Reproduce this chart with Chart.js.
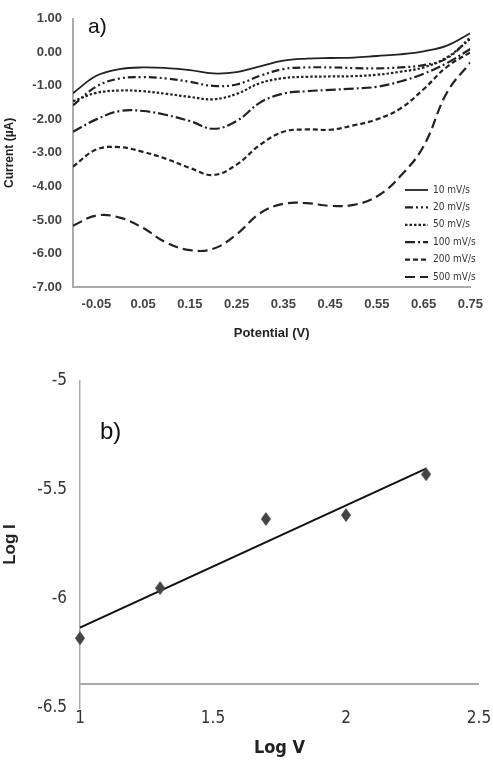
<!DOCTYPE html>
<html>
<head>
<meta charset="utf-8">
<script src="https://cdn.jsdelivr.net/npm/chart.js@4.4.1/dist/chart.umd.min.js"></script>
<style>
  body { margin: 0; background: #fff; }
  canvas { display: block; }
</style>
</head>
<body>
<canvas id="cvChart" width="493" height="345"></canvas>
<canvas id="logChart" width="493" height="418"></canvas>
<script>
// a) cyclic voltammograms - current (µA) against potential (V)
const potentials = [-0.10, -0.05, 0.00, 0.05, 0.10, 0.15, 0.20, 0.25, 0.30, 0.35, 0.40, 0.45, 0.50, 0.55, 0.60, 0.65, 0.70, 0.75];
const scanLabels = ['10 mV/s', '20 mV/s', '50 mV/s', '100 mV/s', '200 mV/s', '500 mV/s'];
const current10 = [-1.22, -0.70, -0.50, -0.45, -0.47, -0.53, -0.63, -0.59, -0.42, -0.25, -0.19, -0.17, -0.16, -0.11, -0.06, 0.03, 0.20, 0.57];
const current20 = [-1.58, -1.02, -0.78, -0.74, -0.78, -0.88, -1.00, -0.96, -0.70, -0.50, -0.45, -0.45, -0.47, -0.48, -0.45, -0.38, -0.18, 0.45];
const current50 = [-1.46, -1.21, -1.14, -1.16, -1.24, -1.33, -1.40, -1.24, -0.92, -0.77, -0.73, -0.72, -0.71, -0.67, -0.58, -0.45, -0.15, 0.40];
const current100 = [-2.37, -2.00, -1.75, -1.75, -1.87, -2.05, -2.28, -2.05, -1.50, -1.23, -1.16, -1.12, -1.08, -1.03, -0.87, -0.64, -0.32, 0.10];
const current200 = [-3.41, -2.90, -2.83, -2.97, -3.18, -3.45, -3.66, -3.35, -2.76, -2.37, -2.30, -2.31, -2.18, -2.00, -1.68, -1.10, -0.43, 0.00];
const current500 = [-5.17, -4.87, -4.93, -5.24, -5.68, -5.90, -5.86, -5.43, -4.80, -4.52, -4.50, -4.58, -4.55, -4.30, -3.70, -2.80, -1.20, -0.30];
const potentialTicks = [-0.05, 0.05, 0.15, 0.25, 0.35, 0.45, 0.55, 0.65, 0.75];

// b) log I against log V
const logV = [1, 1.301, 1.699, 2, 2.301];
const logI = [-6.18, -5.95, -5.633, -5.615, -5.428];
const xAxisCrossAt = -6.39;

const sans = '"Liberation Sans", Arial, sans-serif';
const narrow = '"Liberation Sans Narrow", "DejaVu Sans Condensed", "Liberation Sans", Arial, sans-serif';
const ink = '#222';

const curves = [current10, current20, current50, current100, current200, current500];
const dashes = [[], [8, 3, 2, 3, 2, 3], [2.5, 2], [10, 3, 2, 3], [5, 3], [10, 5]];

// legend drawn inside the plot, bottom right
const insideLegend = {
  id: 'insideLegend',
  afterDraw(chart) {
    const ctx = chart.ctx;
    ctx.save();
    ctx.font = '10px ' + narrow;
    ctx.fillStyle = '#333';
    ctx.textBaseline = 'middle';
    chart.data.datasets.forEach((ds, i) => {
      const y = 190 + i * 17.4;
      ctx.strokeStyle = ds.borderColor;
      ctx.lineWidth = ds.borderWidth;
      ctx.setLineDash(ds.borderDash);
      ctx.beginPath();
      ctx.moveTo(405, y);
      ctx.lineTo(428, y);
      ctx.stroke();
      ctx.fillText(ds.label, 433, y);
    });
    ctx.restore();
  }
};

// "a)" / "b)" tags
const panelTag = {
  id: 'panelTag',
  afterDraw(chart, args, opts) {
    const ctx = chart.ctx;
    ctx.save();
    ctx.font = opts.size + 'px ' + sans;
    ctx.fillStyle = '#111';
    ctx.textBaseline = 'middle';
    ctx.fillText(opts.text, opts.x, opts.y);
    ctx.restore();
  }
};

// horizontal axis of panel b sits above the bottom of the y range
const crossLine = {
  id: 'crossLine',
  beforeDatasetsDraw(chart) {
    const { ctx, chartArea, scales } = chart;
    const y = scales.y.getPixelForValue(xAxisCrossAt);
    ctx.save();
    ctx.strokeStyle = '#aaa';
    ctx.lineWidth = 2;
    ctx.beginPath();
    ctx.moveTo(chartArea.left, y);
    ctx.lineTo(chartArea.right, y);
    ctx.stroke();
    ctx.restore();
  }
};

new Chart(document.getElementById('cvChart'), {
  type: 'line',
  data: {
    datasets: curves.map((vals, i) => ({
      label: scanLabels[i],
      data: potentials.map((p, k) => ({ x: p, y: vals[k] })),
      borderColor: ink,
      borderWidth: i === 0 ? 1.8 : 2.2,
      borderDash: dashes[i],
      pointRadius: 0,
      tension: 0.4,
      fill: false
    }))
  },
  options: {
    responsive: false,
    animation: false,
    layout: { padding: { top: 10, right: 18, left: 0, bottom: 0 } },
    plugins: {
      legend: { display: false },
      tooltip: { enabled: false },
      panelTag: { text: 'a)', x: 88, y: 27, size: 21 }
    },
    scales: {
      x: {
        type: 'linear',
        min: -0.1,
        max: 0.75,
        afterBuildTicks: s => { s.ticks = potentialTicks.map(v => ({ value: v })); },
        afterFit: s => { s.height = 58; },
        grid: { display: false, drawTicks: false },
        border: { color: '#aaa', width: 2 },
        ticks: { callback: v => v.toFixed(2), font: { family: sans, size: 13, weight: 'bold' }, color: '#444', padding: 10, maxRotation: 0, autoSkip: false },
        title: { display: true, text: 'Potential (V)', font: { family: sans, size: 13, weight: 'bold' }, color: '#222', padding: { top: 0, bottom: 4 } }
      },
      y: {
        min: -7,
        max: 1,
        afterFit: s => { s.width = 73; },
        grid: { display: false, drawTicks: false },
        border: { color: '#aaa', width: 2 },
        ticks: { stepSize: 1, callback: v => v.toFixed(2), font: { family: sans, size: 13, weight: 'bold' }, color: '#444', padding: 11 },
        title: { display: true, text: 'Current (µA)', font: { family: sans, size: 12, weight: 'bold' }, color: '#222', padding: { top: 2, bottom: 0 } }
      }
    }
  },
  plugins: [insideLegend, panelTag]
});

// taller-than-wide diamond marker as in the picture
function diamond(w, h, color) {
  const c = document.createElement('canvas');
  c.width = w;
  c.height = h;
  const g = c.getContext('2d');
  g.fillStyle = color;
  g.beginPath();
  g.moveTo(w / 2, 0);
  g.lineTo(w, h / 2);
  g.lineTo(w / 2, h);
  g.lineTo(0, h / 2);
  g.closePath();
  g.fill();
  return c;
}

// least squares trend line through the points
const n = logV.length;
const mx = logV.reduce((a, b) => a + b, 0) / n;
const my = logI.reduce((a, b) => a + b, 0) / n;
let sxy = 0, sxx = 0;
logV.forEach((x, i) => { sxy += (x - mx) * (logI[i] - my); sxx += (x - mx) * (x - mx); });
const slope = sxy / sxx;
const trendX = [logV[0], logV[n - 1]];

new Chart(document.getElementById('logChart'), {
  type: 'scatter',
  data: {
    datasets: [
      {
        label: 'Log I',
        data: logV.map((x, i) => ({ x: x, y: logI[i] })),
        pointStyle: diamond(10, 14, '#444'),
        pointRadius: 6,
        clip: false
      },
      {
        type: 'line',
        label: 'trend',
        data: trendX.map(x => ({ x: x, y: my + slope * (x - mx) })),
        borderColor: '#111',
        borderWidth: 2,
        pointRadius: 0
      }
    ]
  },
  options: {
    responsive: false,
    animation: false,
    layout: { padding: { top: 36, right: 14, left: 0, bottom: 0 } },
    plugins: {
      legend: { display: false },
      tooltip: { enabled: false },
      panelTag: { text: 'b)', x: 100, y: 87, size: 24 }
    },
    scales: {
      x: {
        type: 'linear',
        min: 1,
        max: 2.5,
        afterFit: s => { s.height = 55; },
        grid: { display: false, drawTicks: false },
        border: { display: false },
        ticks: { stepSize: 0.5, callback: v => String(v), font: { family: narrow, size: 17 }, color: '#333', padding: 0, maxRotation: 0 },
        title: { display: true, text: 'Log V', font: { family: narrow, size: 18, weight: 'bold' }, color: '#222', padding: { top: 0, bottom: 4 } }
      },
      y: {
        min: -6.5,
        max: -5,
        afterFit: s => { s.width = 80; },
        grid: { display: false, drawTicks: false },
        border: { color: '#aaa', width: 1.5 },
        ticks: { stepSize: 0.5, callback: v => String(v), font: { family: narrow, size: 17 }, color: '#333', padding: 13 },
        title: { display: true, text: 'Log I', font: { family: sans, size: 17, weight: 'bold' }, color: '#222', padding: { top: 0, bottom: 0 } }
      }
    }
  },
  plugins: [crossLine, panelTag]
});
</script>
</body>
</html>
